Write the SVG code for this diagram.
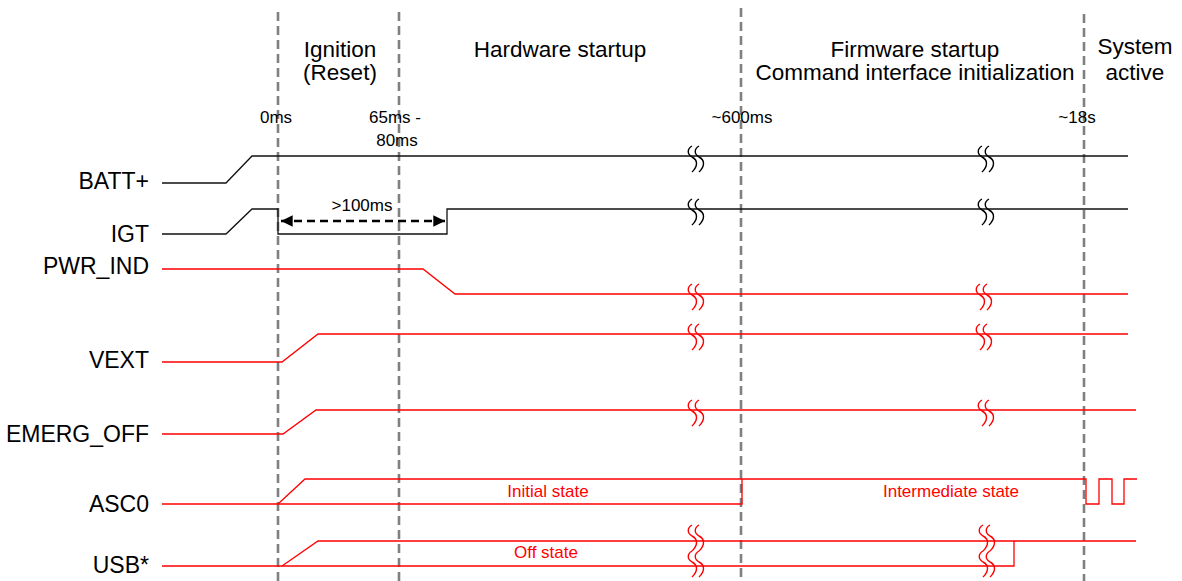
<svg xmlns="http://www.w3.org/2000/svg" width="1182" height="581" viewBox="0 0 1182 581">
<style>
.lbl{font-family:"Liberation Sans",Arial,sans-serif;font-size:23px;fill:#000}
.hdr{font-family:"Liberation Sans",Arial,sans-serif;font-size:22.5px;fill:#000;text-anchor:middle}
.sm{font-family:"Liberation Sans",Arial,sans-serif;font-size:17px;fill:#000}
.st{font-family:"Liberation Sans",Arial,sans-serif;font-size:17px;fill:#ff0000;text-anchor:middle}
.sig{fill:none;stroke:#111;stroke-width:1.3}
.red{fill:none;stroke:#ff0000;stroke-width:1.3}
.vd{stroke:#808080;stroke-width:2.6;stroke-dasharray:9 5;fill:none}
.brkk{fill:none;stroke:#000;stroke-width:1.4}
.brkr{fill:none;stroke:#ff0000;stroke-width:1.4}
</style>
<defs>
<g id="brkb" class="brkk"><path d="M0 -10 C-5 -7 -5 -2 0 1 C6 4 6 10 0 16"/><path d="M7 -10 C2 -7 2 -2 7 1 C13 4 13 10 7 16"/></g>
<g id="brkred" class="brkr"><path d="M0 -10 C-5 -7 -5 -2 0 1 C6 4 6 10 0 16"/><path d="M7 -10 C2 -7 2 -2 7 1 C13 4 13 10 7 16"/></g>
<marker id="ah" viewBox="0 0 10 10" refX="10" refY="5" markerWidth="4.5" markerHeight="4.5" orient="auto-start-reverse" markerUnits="strokeWidth"><path d="M0 0 L10 5 L0 10 Z" fill="#000"/></marker>
</defs>

<g id="phases">
<line class="vd" x1="278" y1="12" x2="278" y2="581"/>
<line class="vd" x1="399" y1="12" x2="399" y2="581"/>
<line class="vd" x1="741" y1="8" x2="741" y2="581"/>
<line class="vd" x1="1084" y1="14" x2="1084" y2="581"/>
</g>

<g id="headers">
<text class="hdr" x="340" y="57">Ignition</text>
<text class="hdr" x="340" y="80">(Reset)</text>
<text class="hdr" x="560" y="57">Hardware startup</text>
<text class="hdr" x="915" y="57">Firmware startup</text>
<text class="hdr" x="915" y="80">Command interface initialization</text>
<text class="hdr" x="1135" y="54">System</text>
<text class="hdr" x="1135" y="80">active</text>
<text class="sm" x="276" y="123" text-anchor="middle">0ms</text>
<text class="sm" x="369" y="123">65ms -</text>
<text class="sm" x="397" y="146" text-anchor="middle">80ms</text>
<text class="sm" x="742" y="123" text-anchor="middle">~600ms</text>
<text class="sm" x="1077" y="123" text-anchor="middle">~18s</text>
</g>

<g id="BATT">
<text class="lbl" x="149" y="189" text-anchor="end">BATT+</text>
<polyline class="sig" points="162,183 226,183 252,156 1128,156"/>
<use href="#brkb" x="692" y="156"/>
<use href="#brkb" x="982" y="156"/>
</g>

<g id="IGT">
<text class="lbl" x="149" y="242" text-anchor="end">IGT</text>
<polyline class="sig" points="162,234 226,234 252,209 278,209 278,234 447,234 447,209 1128,209"/>
<use href="#brkb" x="692" y="209"/>
<use href="#brkb" x="982" y="209"/>
</g>

<g id="PWR_IND">
<text class="lbl" x="149" y="274" text-anchor="end">PWR_IND</text>
<polyline class="red" points="162,269 423,269 455,294 1128,294"/>
<use href="#brkred" x="692" y="294"/>
<use href="#brkred" x="980" y="294"/>
</g>

<g id="VEXT">
<text class="lbl" x="149" y="368" text-anchor="end">VEXT</text>
<polyline class="red" points="162,362 282,362 318,334 1128,334"/>
<use href="#brkred" x="692" y="334"/>
<use href="#brkred" x="980" y="334"/>
</g>

<g id="EMERG_OFF">
<text class="lbl" x="149" y="442" text-anchor="end">EMERG_OFF</text>
<polyline class="red" points="162,434 283,434 316,410 1136,410"/>
<use href="#brkred" x="692" y="410"/>
<use href="#brkred" x="982" y="410"/>
</g>

<g id="ASC0">
<text class="lbl" x="149" y="512" text-anchor="end">ASC0</text>
<polyline class="red" points="162,504 742,504 742,479"/>
<polyline class="red" points="278,504 305,479 1086,479 1086,504 1099,504 1099,479 1112,479 1112,504 1124,504 1124,479 1137,479"/>
<text class="st" x="548" y="497">Initial state</text>
<text class="st" x="951" y="497">Intermediate state</text>
</g>

<g id="USB">
<text class="lbl" x="149" y="573" text-anchor="end">USB*</text>
<polyline class="red" points="162,566 1014,566 1014,541"/>
<polyline class="red" points="282,566 318,541 1136,541"/>
<text class="st" x="546" y="558">Off state</text>
<use href="#brkred" x="692" y="535"/>
<use href="#brkred" x="692" y="561"/>
<use href="#brkred" x="983" y="535"/>
<use href="#brkred" x="983" y="561"/>
</g>

<g id="connectors">
<line x1="281" y1="221" x2="445" y2="221" stroke="#000" stroke-width="2.6" stroke-dasharray="8 5" marker-start="url(#ah)" marker-end="url(#ah)"/>
<text class="sm" x="362" y="211" text-anchor="middle">&gt;100ms</text>
</g>
</svg>
